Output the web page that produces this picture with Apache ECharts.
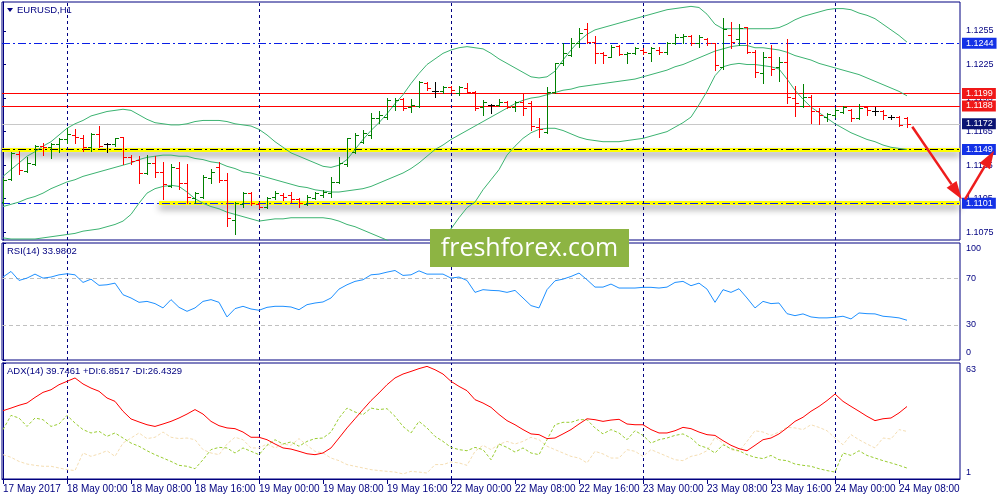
<!DOCTYPE html>
<html>
<head>
<meta charset="utf-8">
<script src="https://cdn.jsdelivr.net/npm/echarts@6/dist/echarts.min.js"></script>
<style>html,body{margin:0;padding:0;background:#fff}#c{width:1000px;height:500px}</style>
</head>
<body>
<div id="c"></div>
<script>
// ---------- DATA ----------
const symbolTitle = 'EURUSD,H1';
const rsiTitle = 'RSI(14) 33.9802';
const adxTitle = 'ADX(14) 39.7461 +DI:6.8517 -DI:26.4329';
const timeLabels = ['17 May 2017','18 May 00:00','18 May 08:00','18 May 16:00','19 May 00:00','19 May 08:00','19 May 16:00','22 May 00:00','22 May 08:00','22 May 16:00','23 May 00:00','23 May 08:00','23 May 16:00','24 May 00:00','24 May 08:00'];
const barsPerLabel = 8;

const opens = [1.11024,1.11224,1.1145,1.11301,1.11361,1.11525,1.1151,1.1154,1.11588,1.11621,
1.1159,1.11516,1.1163,1.1154,1.1154,1.116,1.11426,1.11397,1.11283,1.11367,
1.11292,1.11164,1.11328,1.11188,1.11054,1.11069,1.11233,1.11337,1.11218,1.1086,
1.11003,1.11099,1.11003,1.10979,1.11063,1.11084,1.11084,1.11048,1.11003,1.11054,
1.11084,1.11099,1.11203,1.11361,1.11471,1.1156,1.11621,1.11769,1.11784,1.11879,
1.11939,1.11873,1.11879,1.12088,1.12016,1.12016,1.12046,1.11993,1.12043,1.12007,
1.11873,1.11888,1.11888,1.11918,1.11873,1.11918,1.11903,1.11695,1.11644,1.12007,
1.12261,1.12335,1.12446,1.12565,1.12455,1.1235,1.1232,1.12416,1.12344,1.1235,
1.1238,1.1235,1.1238,1.12365,1.1244,1.12493,1.12505,1.1244,1.12478,1.1244,
1.12231,1.12514,1.12475,1.12583,1.12365,1.12177,1.1232,1.12231,1.12276,1.11948,
1.11879,1.11963,1.11835,1.11784,1.11799,1.11829,1.11844,1.11769,1.11867,1.11838,
1.11838,1.11784,1.11784,1.11769];
const highs = [1.11233,1.11471,1.1148,1.11426,1.11531,1.11552,1.11552,1.11597,1.11686,1.11674,
1.11621,1.11635,1.117,1.11552,1.11597,1.11605,1.11441,1.11432,1.11441,1.11432,
1.11376,1.11358,1.11376,1.11361,1.11114,1.11262,1.11313,1.11376,1.11277,1.11024,
1.11114,1.11108,1.11024,1.11069,1.11122,1.11105,1.11114,1.11054,1.11084,1.11114,
1.11128,1.11248,1.11426,1.11597,1.11641,1.11665,1.11814,1.11838,1.11948,1.11948,
1.11948,1.11939,1.12103,1.12097,1.12097,1.12058,1.12058,1.12058,1.12082,1.12016,
1.11933,1.11897,1.11939,1.11924,1.11927,1.11993,1.11924,1.11769,1.12046,1.12261,
1.1244,1.1249,1.12574,1.12618,1.12505,1.12365,1.12425,1.12425,1.12365,1.1241,
1.12395,1.1241,1.1241,1.12455,1.1252,1.1252,1.12514,1.12514,1.12484,1.1244,
1.12663,1.12633,1.12612,1.12589,1.1238,1.12365,1.12425,1.12314,1.12478,1.12058,
1.12076,1.11978,1.11859,1.1182,1.11859,1.11879,1.1185,1.11897,1.11879,1.11867,
1.11844,1.11799,1.1179,1.11778];
const lows = [1.11003,1.11218,1.11271,1.11292,1.11352,1.11441,1.11417,1.11471,1.11546,1.11546,
1.1148,1.1148,1.11516,1.11471,1.11525,1.11361,1.11361,1.11188,1.11271,1.11248,
1.11048,1.11158,1.11134,1.11015,1.11009,1.11054,1.11188,1.11203,1.10807,1.10732,
1.10979,1.10994,1.10964,1.10964,1.11045,1.11039,1.11024,1.10973,1.10994,1.11048,
1.11063,1.11063,1.11188,1.11346,1.11456,1.11546,1.1159,1.1173,1.1176,1.11844,
1.11844,1.11829,1.11873,1.12022,1.11963,1.11993,1.12007,1.11978,1.11993,1.11844,
1.11799,1.11814,1.11879,1.11859,1.11838,1.11799,1.11665,1.11599,1.11635,1.11999,
1.12246,1.12326,1.1241,1.1244,1.12267,1.12267,1.12314,1.12335,1.12267,1.12344,
1.12344,1.12285,1.12344,1.12344,1.12434,1.12446,1.12425,1.1241,1.12425,1.12201,
1.12207,1.12395,1.12425,1.12356,1.12136,1.12088,1.12157,1.12106,1.11909,1.1179,
1.11873,1.11724,1.11718,1.11748,1.11778,1.11814,1.11748,1.1176,1.11799,1.11799,
1.1176,1.11763,1.11704,1.11695];
const closes = [1.11218,1.11456,1.11307,1.11373,1.11525,1.11513,1.1154,1.11588,1.1163,1.116,
1.11516,1.1163,1.11522,1.1154,1.11591,1.11426,1.11391,1.11277,1.11367,1.11292,
1.11182,1.11337,1.11188,1.11063,1.11099,1.11248,1.11292,1.11218,1.10875,1.11009,
1.11105,1.11009,1.10979,1.11054,1.11099,1.11069,1.11045,1.11009,1.11069,1.11099,
1.11114,1.11203,1.11367,1.11591,1.11621,1.11635,1.11769,1.11799,1.11933,1.11933,
1.11859,1.11888,1.12097,1.12037,1.12016,1.12052,1.12022,1.12046,1.12007,1.11859,
1.11918,1.11888,1.11918,1.11867,1.11918,1.11859,1.11701,1.11671,1.12007,1.12261,
1.1235,1.1244,1.12529,1.12455,1.1235,1.12335,1.1241,1.12344,1.1235,1.12395,
1.12365,1.12395,1.12365,1.1244,1.12493,1.12505,1.1244,1.12499,1.1244,1.12246,
1.12565,1.12455,1.12574,1.12365,1.12186,1.12314,1.12207,1.12276,1.11957,1.11903,
1.11963,1.11835,1.11799,1.11808,1.11844,1.11867,1.11769,1.11859,1.11844,1.11838,
1.11799,1.11784,1.1171,1.1172];

const bbUpper = [1.1125,1.1131,1.1137,1.1143,1.1147,1.1152,1.1156,1.1162,1.1168,1.1172,
1.1175,1.1179,1.1181,1.1183,1.1184,1.1185,1.1184,1.1180,1.1176,1.1173,
1.1172,1.1171,1.1171,1.1172,1.1174,1.1175,1.1175,1.1175,1.1174,1.1172,
1.1171,1.1170,1.1167,1.1162,1.1156,1.1151,1.1146,1.1143,1.1140,1.1137,
1.1134,1.1133,1.1135,1.1140,1.1149,1.1158,1.1166,1.1173,1.1181,1.1190,
1.1198,1.1208,1.1217,1.1225,1.1230,1.1235,1.1238,1.1240,1.1241,1.1240,
1.1239,1.1235,1.1230,1.1226,1.1222,1.1218,1.1214,1.1213,1.1214,1.1219,
1.1229,1.1238,1.1246,1.1252,1.1256,1.1258,1.1260,1.1262,1.1264,1.1266,
1.1268,1.1270,1.1272,1.1274,1.1275,1.1276,1.1277,1.1276,1.1270,1.1261,
1.1257,1.1257,1.1257,1.1257,1.1257,1.1257,1.1257,1.1258,1.1261,1.1265,
1.1268,1.1270,1.1272,1.1274,1.1275,1.1275,1.1274,1.1271,1.1269,1.1266,
1.1261,1.1256,1.1251,1.1245];
const bbMiddle = [1.1098,1.1100,1.1102,1.1105,1.1107,1.1110,1.1114,1.1117,1.1120,1.1122,
1.1125,1.1127,1.1129,1.1131,1.1133,1.1135,1.1137,1.1140,1.1142,1.1143,
1.1144,1.1144,1.1143,1.1143,1.1141,1.1140,1.1138,1.1137,1.1134,1.1132,
1.1129,1.1128,1.1126,1.1124,1.1122,1.1120,1.1118,1.1116,1.1115,1.1113,
1.1112,1.1111,1.1111,1.1112,1.1113,1.1114,1.1116,1.1119,1.1122,1.1125,
1.1128,1.1132,1.1137,1.1143,1.1149,1.1153,1.1158,1.1162,1.1166,1.1170,
1.1174,1.1178,1.1182,1.1186,1.1190,1.1193,1.1195,1.1196,1.1198,1.1200,
1.1202,1.1203,1.1205,1.1206,1.1207,1.1208,1.1209,1.1210,1.1211,1.1212,
1.1214,1.1216,1.1218,1.1220,1.1223,1.1225,1.1228,1.1231,1.1234,1.1237,
1.1239,1.1241,1.1242,1.1242,1.1240,1.1240,1.1239,1.1238,1.1236,1.1233,
1.1231,1.1229,1.1226,1.1224,1.1222,1.1220,1.1218,1.1216,1.1213,1.1210,
1.1207,1.1204,1.1201,1.1197];
const bbLower = [1.1070,1.1069,1.1069,1.1069,1.1069,1.1070,1.1071,1.1072,1.1073,1.1074,
1.1076,1.1077,1.1078,1.1080,1.1082,1.1085,1.1091,1.1101,1.1110,1.1114,
1.1116,1.1117,1.1116,1.1111,1.1105,1.1101,1.1098,1.1096,1.1093,1.1091,
1.1089,1.1087,1.1085,1.1086,1.1087,1.1087,1.1088,1.1088,1.1088,1.1088,
1.1088,1.1087,1.1085,1.1082,1.1080,1.1077,1.1074,1.1071,1.1068,1.1064,
1.1061,1.1060,1.1061,1.1064,1.1068,1.1073,1.1078,1.1088,1.1097,1.1102,
1.1113,1.1122,1.1131,1.1144,1.1152,1.1159,1.1164,1.1167,1.1168,1.1168,
1.1166,1.1163,1.1160,1.1158,1.1157,1.1156,1.1156,1.1156,1.1157,1.1158,
1.1159,1.1161,1.1163,1.1165,1.1169,1.1173,1.1178,1.1189,1.1201,1.1215,
1.1223,1.1225,1.1226,1.1225,1.1225,1.1224,1.1223,1.1221,1.1212,1.1202,
1.1194,1.1187,1.1182,1.1177,1.1172,1.1168,1.1164,1.1161,1.1158,1.1156,
1.1153,1.1151,1.1150,1.1149];

const rsi = [70.9,75.7,68.0,70,73.4,70,70.9,72.8,73.7,72.8,
66.3,69.1,63.8,64.3,65.7,55.8,53,49.3,50.1,48.2,
44.5,51.6,45,41.6,44.5,50.1,51.6,49.3,36.8,43.9,
45.9,43.6,42.5,45,45.9,45.9,45.3,43,47.3,48.7,
49.6,53,60.6,64.3,67.2,68.6,72.8,73.4,75.1,76.5,
72.3,72.8,76.2,73.4,73.4,73.4,70,70.9,68,57.8,
60.1,59.5,59.2,57.8,59.5,53,46.5,44.5,60.1,67.7,
69.1,71.4,74.3,68.6,62.3,62.3,64.9,61.5,61.5,61.5,
62.1,62.1,61.5,62.3,66.3,67.2,63.5,65.7,60.6,49.3,
60.1,57.8,60.9,53,44.5,50.1,48.2,48.7,39.6,37.9,
39.4,36.8,36,36,36.5,37.4,35.1,40.2,39.6,39.4,
37.4,36.8,36,33.98];
const rsiLevels = [70, 30];
const rsiTicks = [0, 30, 70, 100];

const adx = [37.5,38.9,40.4,41.6,44.6,47.3,48.7,51.4,53.2,55,
51.8,49.6,47.9,44.3,42.5,37.2,33.1,31.5,30,29.1,
30.4,31.8,33.6,35.7,38.1,35.7,31.8,29.5,28.3,27.9,
26.1,23.3,23.3,22,19.7,17.6,17,15.8,14.5,14,
14.9,17.6,22.9,28.3,33.2,38.1,42.9,47,51.4,55,
57.1,58.5,60,61.2,59.4,57.1,53.2,50.5,48.2,43.4,
41.6,39.3,35.5,32.2,30,27.4,25.1,24.7,22.6,22.9,
25.1,27.4,30.4,33.2,32.7,31.8,32.5,32.9,30.4,30,
30,27.4,25.6,25.6,26.8,28.6,27.9,26.1,24.7,24.3,
21.5,19,17.2,16.1,19,22,22.9,25.1,28.3,31.8,
34,37.2,39.8,42.9,46.4,42.5,39.8,37.2,34.5,32.2,
33.2,33.6,36.3,39.75];
const plusDI = [27.4,35,33.6,29.1,33.6,32.7,29.1,30.4,35,30.9,
27.4,25.6,26.5,23.8,25.6,22.9,20.2,18.5,16.1,14,
12.2,10.4,8.3,7.8,6.5,11.3,16.7,17.9,17.6,14.9,
17.6,15.8,14,19,22,19.7,20.8,18.5,21.1,22.6,
22.9,26.1,33.6,38.9,36.8,35.4,38.9,38.1,38.6,34.5,
29.1,25.6,31.8,28.3,23.8,21.1,17.9,16.7,16.1,17.9,
16.7,11.3,19.7,17.9,15.4,17.6,14.9,14,22,30,
31.3,31.3,32.7,32.7,28.3,25.1,27.4,25.6,22,26.8,
24.3,20.2,22,22.9,24.3,25.1,22.9,19,17.6,14.9,
19.3,17.2,16.1,14,12.6,11.9,13.6,11.3,10.8,9,
8.3,7.8,6.5,5.5,4.7,14.9,13.6,16.1,13.6,12.2,
10.8,9.6,8.3,6.85];
const minusDI = [14,12.6,10.4,9,8.3,7.8,7.8,6.9,6,5.5,
14.9,13.1,14.4,16.1,13.1,20.2,22.9,25.6,22.6,23.3,
26.1,23.3,22.6,22.9,22,16.7,14.9,14,19.7,23.3,
22,17.6,17.6,19.7,17.6,19.7,19,22.6,19,15.8,
14.9,12.2,10.8,8.7,7.8,6.9,6,5.5,5.1,4.7,
3.7,5.1,4.7,4.2,8.7,8.7,10.1,9.6,8.3,15.8,
19,16.7,19.5,21.1,19.7,21.1,23.3,22,18.5,16.7,
14.9,13.1,12.2,9.6,15.8,14.4,12.2,12.2,16.7,15.8,
13.1,16.7,14.9,13.1,11.3,10.8,13.1,14,16.1,23.3,
20.2,16.7,15.8,21.1,26.8,26.1,24.3,26.1,28.6,28.3,
27.4,30,28.6,26.8,22.9,19.3,24.7,22,19.7,17.6,
22.9,22.4,27.4,26.43];
const adxTicks = [1, 63];

const priceTicks = [1.1075,1.1105,1.1135,1.1165,1.1195,1.1225,1.1255];
const levelPrices = [1.1244, 1.1199, 1.1188, 1.1172, 1.1149, 1.1101];
const levelKinds  = ['blue', 'red', 'red', 'bid', 'black', 'blue'];
const highlightPrices = [1.1149, 1.1101];
const highlightStarts = [null, 19.5];
const arrows = [[[113.66, 1.11694], [119.84, 1.11045]], [[120.25, 1.11045], [123.88, 1.1148]]];
const watermarkText = 'freshforex.com';

// ---------- STYLE / LAYOUT ----------
const NAVY = '#000080';
const FONT = '"Liberation Sans", Arial, sans-serif';
const X_MIN = -0.125, X_MAX = 119.625;
const GRIDS = [
  {left: 2, top: 2, width: 958, height: 238},
  {left: 2, top: 243, width: 958, height: 117},
  {left: 2, top: 363, width: 958, height: 116}
];
const kindStyle = {
  blue:  {line: {color: '#0a1ee6', type: [8,3,2,3], width: 1}, box: '#1432e6'},
  red:   {line: {color: '#ff0000', type: 'solid', width: 1}, box: '#f01818'},
  bid:   {line: {color: '#c8c8c8', type: 'solid', width: 1}, box: '#0b1373'},
  black: {line: {color: '#000000', type: [8,3,2,3], width: 1}, box: '#1432e6'}
};
const separators = timeLabels.map((t, k) => t.endsWith('00:00') ? k * barsPerLabel : null).filter(v => v !== null);
const labelValues = timeLabels.map((t, k) => k * barsPerLabel);

const chart = echarts.init(document.getElementById('c'), null, {width: 1000, height: 500});

function sepMarkLine() {
  return {
    silent: true, symbol: 'none', z: 4, animation: false, precision: 6,
    label: {show: false},
    lineStyle: {color: NAVY, type: [3, 3], width: 1},
    data: separators.map(v => ({xAxis: v}))
  };
}

function renderBar(params, api) {
  const i = api.value(0);
  const o = api.value(1), c = api.value(4);
  const po = api.coord([i, o]);
  const ph = api.coord([i, api.value(2)]);
  const pl = api.coord([i, api.value(3)]);
  const pc = api.coord([i, c]);
  const color = c > o ? '#008000' : (c < o ? '#ff0000' : '#000000');
  const x = Math.round(po[0]);
  const yo = Math.round(po[1]) + 0.5, yc = Math.round(pc[1]) + 0.5;
  const st = {stroke: color, lineWidth: 1};
  return {type: 'group', children: [
    {type: 'line', shape: {x1: x + 0.5, y1: Math.round(ph[1]), x2: x + 0.5, y2: Math.round(pl[1]) + 1}, style: st},
    {type: 'line', shape: {x1: x - 3, y1: yo, x2: x + 1, y2: yo}, style: st},
    {type: 'line', shape: {x1: x, y1: yc, x2: x + 4, y2: yc}, style: st}
  ]};
}

const levelData = levelPrices.map((p, k) => {
  const s = kindStyle[levelKinds[k]];
  return {
    yAxis: p,
    lineStyle: s.line,
    label: {
      show: true, position: 'end', distance: 2,
      formatter: q => Number(q.value).toFixed(4),
      backgroundColor: s.box, color: '#ffffff',
      fontFamily: FONT, fontSize: 9, lineHeight: 10,
      padding: [1, 3, 0, 4]
    }
  };
});

const highlightData = highlightPrices.map((p, k) => {
  const st = {color: '#ffff00', width: 4, type: 'solid', shadowColor: 'rgba(0,0,0,0.45)', shadowBlur: 7, shadowOffsetY: 4};
  if (highlightStarts[k] === null) return {yAxis: p, lineStyle: st};
  return [{coord: [highlightStarts[k], p], lineStyle: st}, {coord: [X_MAX - 0.01, p]}];
});

const lineSeries = (name, data, g, color, type, z) => ({
  name, type: 'line', xAxisIndex: g, yAxisIndex: g,
  data: data.map((v, i) => [i, v]), showSymbol: false, symbol: 'none',
  lineStyle: {color, width: 1, type}, z, silent: true, animation: false
});

const axisText = {color: NAVY, fontFamily: FONT, fontSize: 9};

const option = {
  animation: false,
  backgroundColor: '#ffffff',
  textStyle: {fontFamily: FONT},
  title: [
    {text: symbolTitle, left: 17, top: 5, padding: 0, textStyle: {color: NAVY, fontSize: 9.5, fontWeight: 'normal', fontFamily: FONT}},
    {text: rsiTitle, left: 7, top: 246, padding: 0, textStyle: {color: NAVY, fontSize: 9.5, fontWeight: 'normal', fontFamily: FONT}},
    {text: adxTitle, left: 7, top: 366, padding: 0, textStyle: {color: NAVY, fontSize: 9.5, fontWeight: 'normal', fontFamily: FONT}}
  ],
  grid: GRIDS.map(g => Object.assign({show: true, borderColor: NAVY, borderWidth: 1, backgroundColor: 'transparent'}, g)),
  xAxis: [0, 1, 2].map(k => ({
    type: 'value', gridIndex: k, min: X_MIN, max: X_MAX,
    axisLine: {show: k === 2, lineStyle: {color: NAVY}},
    axisTick: {show: k === 2, customValues: labelValues, length: 5, lineStyle: {color: NAVY}},
    axisLabel: {show: k === 2, customValues: labelValues, align: 'left', margin: 5,
      formatter: v => timeLabels[Math.round(v / barsPerLabel)] || '',
      color: NAVY, fontFamily: FONT, fontSize: 10},
    splitLine: {show: false}
  })),
  yAxis: [
    {type: 'value', gridIndex: 0, position: 'right', min: 1.10681, max: 1.12809, scale: true,
     axisLine: {show: true, lineStyle: {color: NAVY}},
     axisTick: {show: true, customValues: priceTicks, length: 3, lineStyle: {color: NAVY}},
     axisLabel: Object.assign({customValues: priceTicks, margin: 6, formatter: v => v.toFixed(4)}, axisText),
     splitLine: {show: false}},
    {type: 'value', gridIndex: 1, position: 'right', min: 0, max: 100,
     axisLine: {show: true, lineStyle: {color: NAVY}},
     axisTick: {show: true, customValues: rsiTicks, length: 3, lineStyle: {color: NAVY}},
     axisLabel: Object.assign({customValues: rsiTicks, margin: 6,
       formatter: v => v === 100 ? '{t|100}' : (v === 0 ? '{b|0}' : String(v)),
       rich: {t: Object.assign({padding: [12, 0, 0, 0]}, axisText), b: Object.assign({padding: [0, 0, 15, 0]}, axisText)}}, axisText),
     splitLine: {show: false}},
    {type: 'value', gridIndex: 2, position: 'right', min: 1, max: 63,
     axisLine: {show: true, lineStyle: {color: NAVY}},
     axisTick: {show: true, customValues: adxTicks, length: 3, lineStyle: {color: NAVY}},
     axisLabel: Object.assign({customValues: adxTicks, margin: 6,
       formatter: v => v === 63 ? '{t|63}' : (v === 1 ? '{b|1}' : String(v)),
       rich: {t: Object.assign({padding: [13, 0, 0, 0]}, axisText), b: Object.assign({padding: [0, 0, 13, 0]}, axisText)}}, axisText),
     splitLine: {show: false}}
  ],
  series: [
    {name: 'highlights', type: 'line', xAxisIndex: 0, yAxisIndex: 0, data: [], z: 2,
     markLine: {silent: true, symbol: 'none', z: 2, animation: false, precision: 6, label: {show: false}, data: highlightData}},
    {name: 'levels', type: 'line', xAxisIndex: 0, yAxisIndex: 0, data: [], z: 3,
     markLine: {silent: true, symbol: 'none', z: 3, animation: false, precision: 6, data: levelData}},
    {name: 'sep0', type: 'line', xAxisIndex: 0, yAxisIndex: 0, data: [], markLine: sepMarkLine()},
    lineSeries('BB upper', bbUpper, 0, '#3cb371', 'solid', 6),
    lineSeries('BB middle', bbMiddle, 0, '#3cb371', 'solid', 6),
    lineSeries('BB lower', bbLower, 0, '#3cb371', 'solid', 6),
    {name: 'EURUSD', type: 'custom', xAxisIndex: 0, yAxisIndex: 0, z: 8, silent: true, clip: true,
     renderItem: renderBar, encode: {x: 0, y: [1, 2, 3, 4]},
     data: opens.map((o, i) => [i, o, highs[i], lows[i], closes[i]])},
    Object.assign(lineSeries('RSI', rsi, 1, '#1e90ff', 'solid', 6), {
      markLine: {silent: true, symbol: 'none', z: 3, animation: false, precision: 6, label: {show: false},
        lineStyle: {color: '#c0c0c0', type: [4, 3], width: 1},
        data: rsiLevels.map(v => ({yAxis: v}))}}),
    {name: 'sep1', type: 'line', xAxisIndex: 1, yAxisIndex: 1, data: [], markLine: sepMarkLine()},
    {name: 'sep2', type: 'line', xAxisIndex: 2, yAxisIndex: 2, data: [], markLine: sepMarkLine()},
    lineSeries('-DI', minusDI, 2, '#f5deb3', [3, 2], 5),
    lineSeries('+DI', plusDI, 2, '#9acd32', [3, 2], 6),
    lineSeries('ADX', adx, 2, '#ff0000', 'solid', 7)
  ]
};
chart.setOption(option);

// ---------- overlays positioned through the chart's own scales ----------
const toPx = p => chart.convertToPixel({gridIndex: 0}, p);
const graphics = [];
graphics.push({type: 'polygon', z: 100, shape: {points: [[7, 8], [13, 8], [10, 12]]}, style: {fill: NAVY}});
arrows.forEach(a => {
  const p0 = toPx(a[0]), p1 = toPx(a[1]);
  const dx = p1[0] - p0[0], dy = p1[1] - p0[1], len = Math.hypot(dx, dy);
  const ux = dx / len, uy = dy / len;
  const hl = 18, hw = 6;
  const bx = p1[0] - ux * hl, by = p1[1] - uy * hl;
  graphics.push({type: 'line', z: 100, shape: {x1: p0[0], y1: p0[1], x2: bx, y2: by}, style: {stroke: '#ee1c1c', lineWidth: 2.5}});
  graphics.push({type: 'polygon', z: 100, shape: {points: [[p1[0], p1[1]], [bx - uy * hw, by + ux * hw], [bx + uy * hw, by - ux * hw]]}, style: {fill: '#ee1c1c'}});
});
graphics.push({type: 'rect', z: 110, shape: {x: 430, y: 229, width: 199, height: 38}, style: {fill: '#8db443'}});
graphics.push({type: 'text', z: 111, x: 529.5, y: 249, style: {text: watermarkText, fill: '#ffffff', font: '25px "Open Sans", sans-serif', align: 'center', verticalAlign: 'middle'}});
chart.setOption({graphic: graphics});
</script>
</body>
</html>
